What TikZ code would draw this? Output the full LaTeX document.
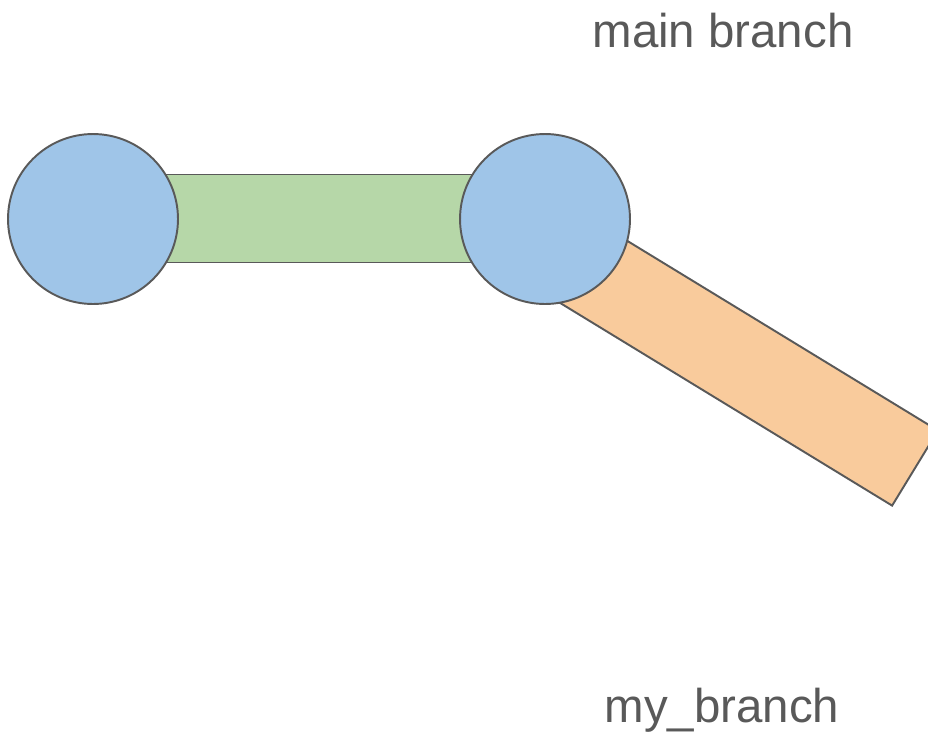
\documentclass[tikz,border=0pt]{standalone}
\usepackage{fontspec}
\setmainfont{Liberation Sans}
\definecolor{commitfill}{HTML}{9FC5E8}
\definecolor{mainfill}{HTML}{B6D7A8}
\definecolor{myfill}{HTML}{F9CB9C}
\definecolor{edgegray}{HTML}{595959}
\begin{document}
\begin{tikzpicture}[
	x=0.02cm, y=-0.02cm,
	commit/.style={circle, draw=edgegray, line width=1.1pt, minimum size=3.4cm, inner sep=0pt, fill=commitfill},
	bar/.style={rectangle, draw=edgegray, line width=1.1pt, inner sep=0pt, minimum height=1.76cm},
	label/.style={anchor=base, text=edgegray, font=\fontsize{27}{33}\selectfont}
	]
	
	% Page frame
	\useasboundingbox (0,0) rectangle (928,741);
	
	% Branches (behind the commits)
	\node[bar, fill=mainfill, minimum width=7cm] (mainbar) at (319,218.5) {};
	\node[bar, fill=myfill, minimum width=8.72cm, rotate=-31.4] (mybar) at (729,354.5) {};
	
	% Commits
	\node[commit] (c1) at (93,219) {};
	\node[commit] (c2) at (545,219) {};
	
	% Branch names
	\node[label] (mainname) at (723,47) {main branch};
	\node[label] (myname) at (722,722) {my\_branch};
	
\end{tikzpicture}
\end{document}
